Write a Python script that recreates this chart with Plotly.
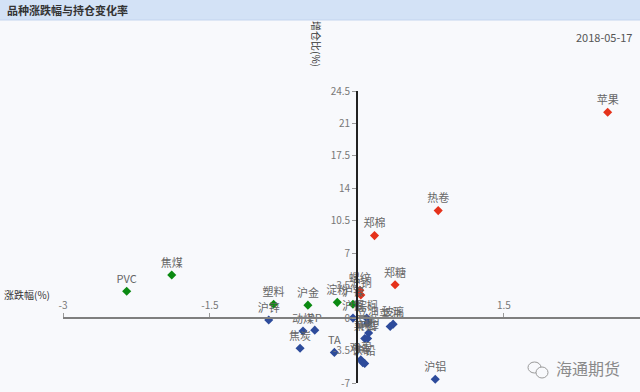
import plotly.graph_objects as go

# ---- data ----
red_names = ["苹果", "热卷", "郑棉", "郑糖", "螺纹", "沪铜"]
red_x = [2.56, 0.83, 0.18, 0.39, 0.03, 0.04]
red_y = [22.2, 11.6, 8.9, 3.6, 3.0, 2.5]

green_names = ["PVC", "焦煤", "塑料", "沪金", "淀粉", "沪镍"]
green_x = [-2.35, -1.89, -0.85, -0.50, -0.20, -0.04]
green_y = [2.9, 4.65, 1.5, 1.4, 1.7, 1.5]

blue_names = ["沪锌", "动煤", "PP", "焦炭", "TA", "沪铝", "沪银", "棕榈", "豆油",
              "豆粕", "菜粕", "甲醇", "鸡蛋", "铁矿", "沪铅", "菜油", "玻璃"]
blue_x = [-0.90, -0.55, -0.43, -0.58, -0.23, 0.80, -0.04, 0.10, 0.11,
          0.12, 0.08, 0.11, 0.04, 0.06, 0.08, 0.34, 0.37]
blue_y = [-0.2, -1.4, -1.3, -3.25, -3.7, -6.6, 0.0, 0.0, -0.55,
          -1.6, -2.2, -2.2, -4.5, -4.8, -4.9, -0.9, -0.65]

x_ticks = [-3, -1.5, 1.5]
x_ticklabels = ["-3", "-1.5", "1.5"]
y_ticks = [-7, -3.5, 0, 3.5, 7, 10.5, 14, 17.5, 21, 24.5]
y_ticklabels = ["-7", "-3.5", "0", "3.5", "7", "10.5", "14", "17.5", "21", "24.5"]

x_range = [-3, 2.89]
y_range = [-7, 24.5]

# ---- layout geometry ----
W, H = 640, 392
ML, MR, MT, MB = 63, 0, 91, 9
PW, PH = W - ML - MR, H - MT - MB

def pxx(px):
    return (px - ML) / PW

def pxy(py):
    return (H - MB - py) / PH

FONT = "Noto Sans CJK SC"
label_font = dict(family=FONT, size=11, color="#666666")

fig = go.Figure()
for names, xs, ys, col in [
    (red_names, red_x, red_y, "#e5321b"),
    (green_names, green_x, green_y, "#0b8a12"),
    (blue_names, blue_x, blue_y, "#2d4b9b"),
]:
    fig.add_trace(go.Scatter(
        x=xs, y=ys, text=names, mode="markers+text",
        textposition="top center", textfont=label_font,
        marker=dict(symbol="diamond", size=7, color=col),
        hoverinfo="text+x+y", showlegend=False, cliponaxis=False,
    ))

x0_pos = (0 - y_range[0]) / (y_range[1] - y_range[0])
y0_pos = (0 - x_range[0]) / (x_range[1] - x_range[0])

fig.update_layout(
    width=W, height=H,
    margin=dict(l=ML, r=MR, t=MT, b=MB),
    paper_bgcolor="#f8f9fc", plot_bgcolor="#f8f9fc",
    font=dict(family=FONT),
    xaxis=dict(range=x_range, anchor="free", position=x0_pos, side="top",
               showgrid=False, zeroline=False, showline=True,
               linecolor="#7f7f7f", linewidth=2,
               tickvals=x_ticks, ticktext=x_ticklabels,
               ticks="outside", ticklen=4, tickcolor="#999999",
               tickfont=dict(family=FONT, size=10, color="#777777")),
    yaxis=dict(range=y_range, anchor="free", position=y0_pos,
               showgrid=False, zeroline=False, showline=True,
               linecolor="#222222", linewidth=1.5,
               tickvals=y_ticks, ticktext=y_ticklabels,
               ticks="outside", ticklen=4, tickcolor="#999999",
               tickfont=dict(family=FONT, size=10, color="#777777")),
    shapes=[
        dict(type="rect", xref="paper", yref="paper",
             x0=pxx(0), x1=pxx(W), y0=pxy(20), y1=pxy(0),
             fillcolor="#d3e2f6", line=dict(width=0), layer="below"),
        dict(type="line", xref="paper", yref="paper",
             x0=pxx(0), x1=pxx(W), y0=pxy(20), y1=pxy(20),
             line=dict(color="#c3d5ee", width=1)),
        dict(type="circle", xref="paper", yref="paper",
             x0=pxx(528), x1=pxx(541), y0=pxy(373), y1=pxy(362),
             line=dict(color="#9a9a9a", width=1)),
        dict(type="circle", xref="paper", yref="paper",
             x0=pxx(536), x1=pxx(548), y0=pxy(378), y1=pxy(367),
             line=dict(color="#9a9a9a", width=1), fillcolor="#f8f9fc"),
    ],
    annotations=[
        dict(text="<b>品种涨跌幅与持仓变化率</b>", xref="paper", yref="paper",
             x=pxx(5), y=pxy(10), xanchor="left", yanchor="middle",
             showarrow=False, font=dict(family=FONT, size=11, color="#333333")),
        dict(text="2018-05-17", xref="paper", yref="paper",
             x=pxx(634), y=pxy(37), xanchor="right", yanchor="middle",
             showarrow=False, font=dict(family=FONT, size=11, color="#555555")),
        dict(text="涨跌幅(%)", xref="paper", yref="paper",
             x=pxx(2), y=pxy(294), xanchor="left", yanchor="middle",
             showarrow=False, font=dict(family=FONT, size=10, color="#333333")),
        dict(text="增仓比(%)", xref="paper", yref="paper",
             x=pxx(316), y=pxy(44), xanchor="center", yanchor="middle",
             textangle=90, showarrow=False,
             font=dict(family=FONT, size=10, color="#333333")),
        dict(text="海通期货", xref="paper", yref="paper",
             x=pxx(554), y=pxy(368), xanchor="left", yanchor="middle",
             showarrow=False, font=dict(family=FONT, size=16, color="#8a8a8a")),
    ],
)

fig.write_html("out.html",
               config={"displayModeBar": False},
               post_script="document.body.style.margin='0';"
                           "document.body.style.background='#f8f9fc';")
